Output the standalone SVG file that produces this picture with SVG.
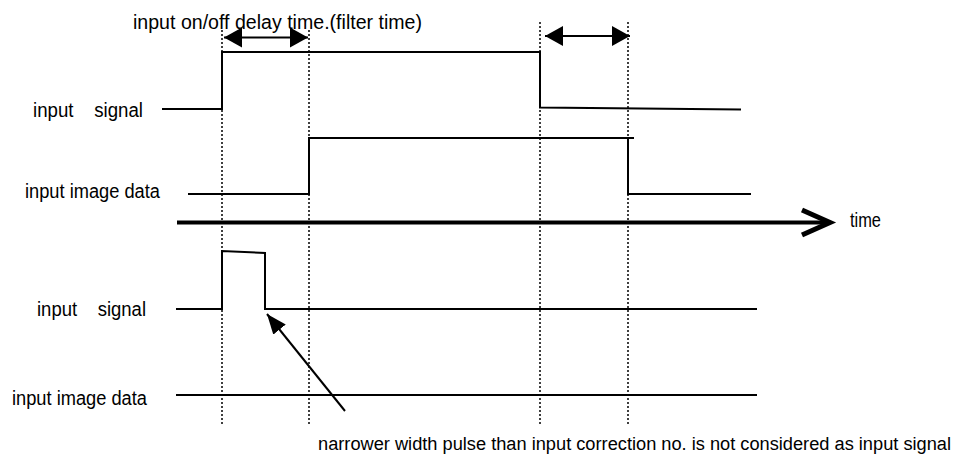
<svg xmlns="http://www.w3.org/2000/svg" width="961" height="455" viewBox="0 0 961 455">
<style>
.t{font-family:"Liberation Sans",Arial,sans-serif;font-size:20px;fill:#000;white-space:pre}
.s{font-size:18px}
.sig{fill:none;stroke:#000;stroke-width:2}
.dot{stroke:#000;stroke-width:1.5;stroke-dasharray:2,2;fill:none}
.dim{stroke:#000;stroke-width:2;fill:none}
</style>
<defs>
<marker id="tri" markerWidth="20" markerHeight="22" refX="18" refY="10" orient="auto-start-reverse" markerUnits="userSpaceOnUse" viewBox="0 0 20 22">
<path d="M0,0 L18,10 L0,20 Z" fill="#000"/>
</marker>
<marker id="ptr" markerWidth="22" markerHeight="18" refX="20" refY="8" orient="auto" markerUnits="userSpaceOnUse" viewBox="0 0 22 18">
<path d="M0,0 L20,8 L0,16 Z" fill="#000"/>
</marker>
</defs>
<rect width="961" height="455" fill="#fff"/>

<g id="guides">
<line class="dot" x1="222" y1="30" x2="222" y2="424"/>
<line class="dot" x1="309" y1="30" x2="309" y2="424"/>
<line class="dot" x1="540" y1="22" x2="540" y2="424"/>
<line class="dot" x1="628" y1="22" x2="628" y2="424"/>
</g>

<g id="time-axis">
<line x1="177" y1="222.5" x2="830" y2="222.5" stroke="#000" stroke-width="4"/>
<polyline points="802,210 830,222.5 802,235" fill="none" stroke="#000" stroke-width="5"/>
<text class="t" x="850" y="227" textLength="31" lengthAdjust="spacingAndGlyphs">time</text>
</g>

<g id="input-signal-1">
<text class="t" x="33" y="117" textLength="110" lengthAdjust="spacingAndGlyphs">input    signal</text>
<polyline class="sig" points="162,109 222,109 222,52 540,52 540,107.5 741,109.5"/>
</g>

<g id="input-image-data-1">
<text class="t" x="25" y="197.5" textLength="135" lengthAdjust="spacingAndGlyphs">input image data</text>
<polyline class="sig" points="188,194 309,194 309,138 634,138"/>
<polyline class="sig" points="628,138 628,194 751,194"/>
</g>

<g id="input-signal-2">
<text class="t" x="37" y="316" textLength="109" lengthAdjust="spacingAndGlyphs">input    signal</text>
<polyline class="sig" points="176,309 222,309 222,251 265,253 265,309 757,309"/>
</g>

<g id="input-image-data-2">
<text class="t" x="12" y="405" textLength="135" lengthAdjust="spacingAndGlyphs">input image data</text>
<line class="sig" x1="176" y1="395" x2="757" y2="395"/>
</g>

<g id="connectors">
<line class="dim" x1="224" y1="37.5" x2="308" y2="37.5" marker-start="url(#tri)" marker-end="url(#tri)"/>
<line class="dim" x1="545" y1="36" x2="630" y2="36" marker-start="url(#tri)" marker-end="url(#tri)"/>
<line class="dim" x1="345" y1="411" x2="267" y2="314" marker-end="url(#ptr)"/>
</g>

<g id="labels">
<text class="t" x="133" y="29" textLength="289" lengthAdjust="spacingAndGlyphs">input on/off delay time.(filter time)</text>
<text class="t s" x="318" y="450" textLength="633" lengthAdjust="spacingAndGlyphs">narrower width pulse than input correction no. is not considered as input signal</text>
</g>
</svg>
